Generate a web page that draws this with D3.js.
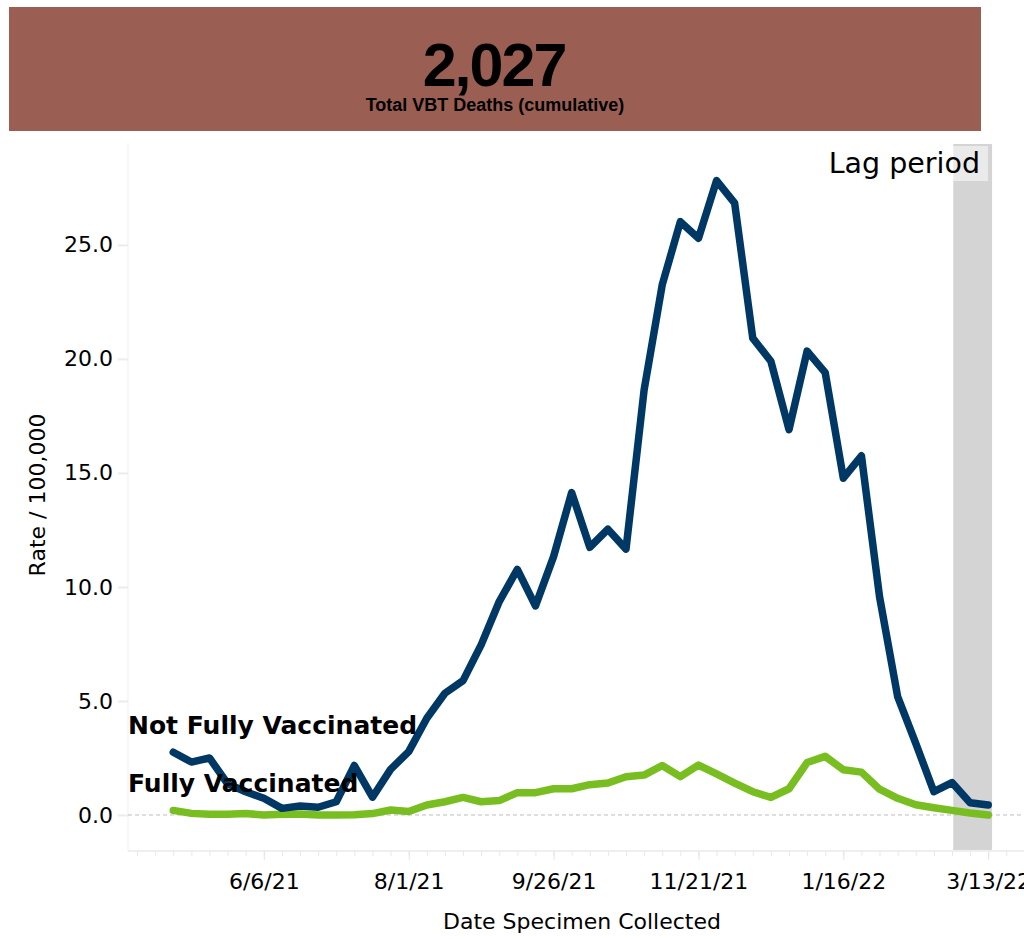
<!DOCTYPE html>
<html>
<head>
<meta charset="utf-8">
<script src="https://cdn.jsdelivr.net/npm/d3@7"></script>
<style>
    body { margin: 0; background: #fff; }
    svg { display: block; font-family: 'DejaVu Sans', sans-serif; }
</style>
</head>
<body>
<div class="container"></div>
<script>
// weekly rates per 100,000
const weeks = [
    '2021-05-02', '2021-05-09', '2021-05-16', '2021-05-23', '2021-05-30',
    '2021-06-06', '2021-06-13', '2021-06-20', '2021-06-27',
    '2021-07-04', '2021-07-11', '2021-07-18', '2021-07-25',
    '2021-08-01', '2021-08-08', '2021-08-15', '2021-08-22', '2021-08-29',
    '2021-09-05', '2021-09-12', '2021-09-19', '2021-09-26',
    '2021-10-03', '2021-10-10', '2021-10-17', '2021-10-24', '2021-10-31',
    '2021-11-07', '2021-11-14', '2021-11-21', '2021-11-28',
    '2021-12-05', '2021-12-12', '2021-12-19', '2021-12-26',
    '2022-01-02', '2022-01-09', '2022-01-16', '2022-01-23', '2022-01-30',
    '2022-02-06', '2022-02-13', '2022-02-20', '2022-02-27',
    '2022-03-06', '2022-03-13'
];
const notFully = [
    2.75, 2.32, 2.5, 1.37, 1.02,
    0.73, 0.29, 0.39, 0.34,
    0.58, 2.17, 0.78, 2.0,
    2.78, 4.24, 5.34, 5.89, 7.46,
    9.36, 10.77, 9.17, 11.33,
    14.14, 11.74, 12.53, 11.66, 18.64,
    23.25, 26.02, 25.29, 27.82,
    26.83, 20.91, 19.9, 16.9,
    20.34, 19.4, 14.77, 15.75, 9.57,
    5.19, 3.14, 1.02, 1.42,
    0.54, 0.44
];
const fully = [
    0.2, 0.07, 0.03, 0.03, 0.06,
    0.0, 0.03, 0.04, 0.0,
    0.0, 0.01, 0.06, 0.22,
    0.15, 0.44, 0.58, 0.77, 0.58,
    0.63, 0.98, 0.98, 1.15,
    1.15, 1.33, 1.4, 1.68, 1.75,
    2.17, 1.68, 2.19, 1.8,
    1.4, 1.02, 0.77, 1.15,
    2.3, 2.57, 1.98, 1.88, 1.13,
    0.73, 0.45, 0.32, 0.2,
    0.09, 0.0
];
const yTicks = [0, 5, 10, 15, 20, 25];
const majorTicks = ['2021-06-06', '2021-08-01', '2021-09-26', '2021-11-21', '2022-01-16', '2022-03-13'];
const lagStart = '2022-02-27';
const lagEnd = '2022-03-13';
const totalDeaths = 2027;

const w = 1024;
const h = 939;

const plot = { top: 143, bottom: 851, left: 128, right: 1027 };

const parse = d3.timeParse('%Y-%m-%d');
const blue = '#003865';
const green = '#78be20';

const svg = d3.select('.container')
    .append('svg')
    .attr('width', w)
    .attr('height', h)
    .attr('viewBox', [0, 0, w, h]);

// header banner
svg.append('rect')
    .attr('x', 9)
    .attr('y', 7)
    .attr('width', 972)
    .attr('height', 124)
    .attr('fill', '#9a5e53');

svg.append('text')
    .attr('x', 494)
    .attr('y', 86)
    .attr('text-anchor', 'middle')
    .style('font-family', "'Liberation Sans', sans-serif")
    .style('font-weight', 'bold')
    .style('font-size', '61px')
    .style('letter-spacing', '-2px')
    .text(d3.format(',')(totalDeaths));

svg.append('text')
    .attr('x', 495)
    .attr('y', 111)
    .attr('text-anchor', 'middle')
    .style('font-family', "'Liberation Sans', sans-serif")
    .style('font-weight', 'bold')
    .style('font-size', '18px')
    .text('Total VBT Deaths (cumulative)');

// scales
const x = d3.scaleTime()
    .domain([new Date(2021, 3, 14, 12), new Date(2022, 2, 28)])
    .range([plot.left, plot.right]);

const y = d3.scaleLinear()
    .domain([-1.58, 29.47])
    .range([plot.bottom, plot.top]);

// lag period band
const bandX0 = x(d3.timeHour.offset(parse(lagStart), 12));
const bandX1 = x(d3.timeHour.offset(parse(lagEnd), 36));
svg.append('rect')
    .attr('x', bandX0)
    .attr('y', plot.top + 1)
    .attr('width', bandX1 - bandX0)
    .attr('height', plot.bottom - plot.top - 1)
    .attr('fill', '#d4d4d4');

// frame lines
svg.append('line')
    .attr('x1', plot.left).attr('x2', plot.left)
    .attr('y1', plot.top).attr('y2', plot.bottom)
    .attr('stroke', '#efefef');
svg.append('line')
    .attr('x1', plot.left).attr('x2', w)
    .attr('y1', plot.bottom).attr('y2', plot.bottom)
    .attr('stroke', '#efefef')
    .attr('stroke-width', 2);

// y axis
svg.append('g')
    .attr('transform', `translate(${plot.left}, 0)`)
    .call(d3.axisLeft(y)
        .tickValues(yTicks)
        .tickFormat(d3.format('.1f'))
        .tickSize(10)
        .tickPadding(5))
    .call(g => g.select('.domain').remove())
    .call(g => g.selectAll('.tick line').attr('stroke', '#ececec').attr('stroke-width', 2))
    .call(g => g.selectAll('.tick text')
        .attr('fill', '#000')
        .style('font-family', "'DejaVu Sans', sans-serif")
        .style('font-size', '22px'));

// x axis: weekly minor ticks and 8-week labelled ticks
const minorTicks = d3.timeWeek.range(new Date(2021, 3, 18), new Date(2022, 2, 28));
svg.append('g')
    .attr('transform', `translate(0, ${plot.bottom})`)
    .call(d3.axisBottom(x)
        .tickValues(minorTicks)
        .tickFormat('')
        .tickSize(5))
    .call(g => g.select('.domain').remove())
    .call(g => g.selectAll('.tick line').attr('stroke', '#e8e8e8'));

svg.append('g')
    .attr('transform', `translate(0, ${plot.bottom})`)
    .call(d3.axisBottom(x)
        .tickValues(majorTicks.map(parse))
        .tickFormat(d3.timeFormat('%-m/%-d/%y'))
        .tickSize(9)
        .tickPadding(29))
    .call(g => g.select('.domain').remove())
    .call(g => g.selectAll('.tick line').attr('stroke', '#e4e4e4'))
    .call(g => g.selectAll('.tick text')
        .attr('dy', 0)
        .attr('fill', '#000')
        .style('font-family', "'DejaVu Sans', sans-serif")
        .style('font-size', '22px'));

// axis titles
svg.append('text')
    .attr('x', 582)
    .attr('y', 929)
    .attr('text-anchor', 'middle')
    .style('font-size', '22px')
    .text('Date Specimen Collected');

svg.append('text')
    .attr('transform', 'translate(45, 495) rotate(-90)')
    .attr('text-anchor', 'middle')
    .style('font-size', '22px')
    .text('Rate / 100,000');

// zero reference line
svg.append('line')
    .attr('x1', plot.left).attr('x2', w)
    .attr('y1', y(0)).attr('y2', y(0))
    .attr('stroke', '#bdbdbd')
    .attr('stroke-dasharray', '4,3');

// lines
const line = d3.line()
    .x((d, i) => x(parse(weeks[i])))
    .y(d => y(d));

[[fully, green], [notFully, blue]].forEach(([values, color]) => {
    svg.append('path')
        .datum(values)
        .attr('fill', 'none')
        .attr('stroke', color)
        .attr('stroke-width', 7.5)
        .attr('stroke-linejoin', 'round')
        .attr('stroke-linecap', 'round')
        .attr('d', line);
});

// series labels
svg.append('text')
    .attr('x', plot.left)
    .attr('y', 734)
    .style('font-weight', 'bold')
    .style('font-size', '25px')
    .text('Not Fully Vaccinated');

svg.append('text')
    .attr('x', plot.left)
    .attr('y', 792)
    .style('font-weight', 'bold')
    .style('font-size', '25px')
    .text('Fully Vaccinated');

// lag period label with translucent backing
const lagLabel = svg.append('text')
    .attr('x', 980)
    .attr('y', 173)
    .attr('text-anchor', 'end')
    .style('font-size', '28.5px')
    .text('Lag period');
const bb = lagLabel.node().getBBox();
svg.insert('rect', () => lagLabel.node())
    .attr('x', bb.x - 4)
    .attr('y', 146)
    .attr('width', bandX1 - 4 - (bb.x - 4))
    .attr('height', 35)
    .attr('fill', '#fff')
    .attr('fill-opacity', 0.5);
</script>
</body>
</html>
